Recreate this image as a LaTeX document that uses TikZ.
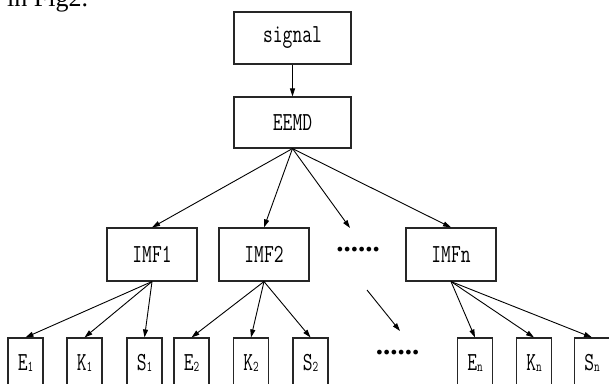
\documentclass[tikz,border=0pt]{standalone}
\usepackage{graphicx}
\usepackage{fontspec}
\newfontfamily\capfont{Liberation Serif}
\usetikzlibrary{arrows.meta}
\newcommand\boxtxt[1]{\scalebox{0.73}[1]{\fontsize{26}{26}\ttfamily #1}}
\newcommand\boxsub[2]{\scalebox{0.73}[1]{\fontsize{26}{26}\ttfamily #1\raisebox{-1pt}{\fontsize{15}{15}\selectfont #2}}}
\tikzset{
  box/.style={draw=black!85, line width=1.1pt, rectangle, inner sep=0pt, text=black},
  big/.style={box, minimum width=117pt, minimum height=52pt},
  mid/.style={box, minimum width=90pt, minimum height=53pt},
  leaf/.style={box, minimum width=35pt, minimum height=50pt},
  arr/.style={line width=0.9pt, -{Triangle[length=8pt,width=5pt]}},
  dots/.style={inner sep=0pt, font=\fontsize{29}{29}\capfont\bfseries}
}
\begin{document}
\begin{tikzpicture}[x=1pt,y=-1pt]
\useasboundingbox (0,0) rectangle (609,383);
\clip (0,0) rectangle (609,383);
\node[anchor=base west, inner sep=0pt, font=\fontsize{26}{26}\capfont] (cap) at (7,6.5) {in Fig2.};
\node[big] (sig) at (292.5,38) {\boxtxt{signal}};
\node[big, minimum height=51pt] (eemd) at (292.5,122.5) {\boxtxt{EEMD}};
\node[mid] (imf1) at (152,254.5) {\boxtxt{IMF1}};
\node[mid] (imf2) at (264,254.5) {\boxtxt{IMF2}};
\node[mid] (imfn) at (451,254.5) {\boxtxt{IMFn}};
\node[dots] (d1) at (358,250) {......};
\node[dots] (d2) at (397.5,353) {......};
\coordinate (dtip) at (350,228);
\coordinate (ds) at (367,290);
\coordinate (de) at (400,331);
\node[leaf] (e1) at (25.5,363) {\boxsub{E}{1}};
\node[leaf] (k1) at (84.5,363) {\boxsub{K}{1}};
\node[leaf] (s1) at (144.5,363) {\boxsub{S}{1}};
\node[leaf] (e2) at (191.5,363) {\boxsub{E}{2}};
\node[leaf] (k2) at (251,363) {\boxsub{K}{2}};
\node[leaf] (s2) at (310.5,363) {\boxsub{S}{2}};
\node[leaf] (en) at (475,363) {\boxsub{E}{n}};
\node[leaf] (kn) at (534,363) {\boxsub{K}{n}};
\node[leaf] (sn) at (592,363) {\boxsub{S}{n}};
\draw[arr] (sig) -- (eemd);
\draw[arr] (eemd.south) -- (imf1.north);
\draw[arr] (eemd.south) -- (imf2.north);
\draw[arr] (eemd.south) -- (dtip);
\draw[arr] (eemd.south) -- (imfn.north);
\draw[arr] (ds) -- (de);
\foreach \a/\b in {imf1/e1, imf1/k1, imf1/s1, imf2/e2, imf2/k2, imf2/s2, imfn/en, imfn/kn, imfn/sn}
  \draw[arr] (\a.south) -- (\b.north);
\end{tikzpicture}
\end{document}
